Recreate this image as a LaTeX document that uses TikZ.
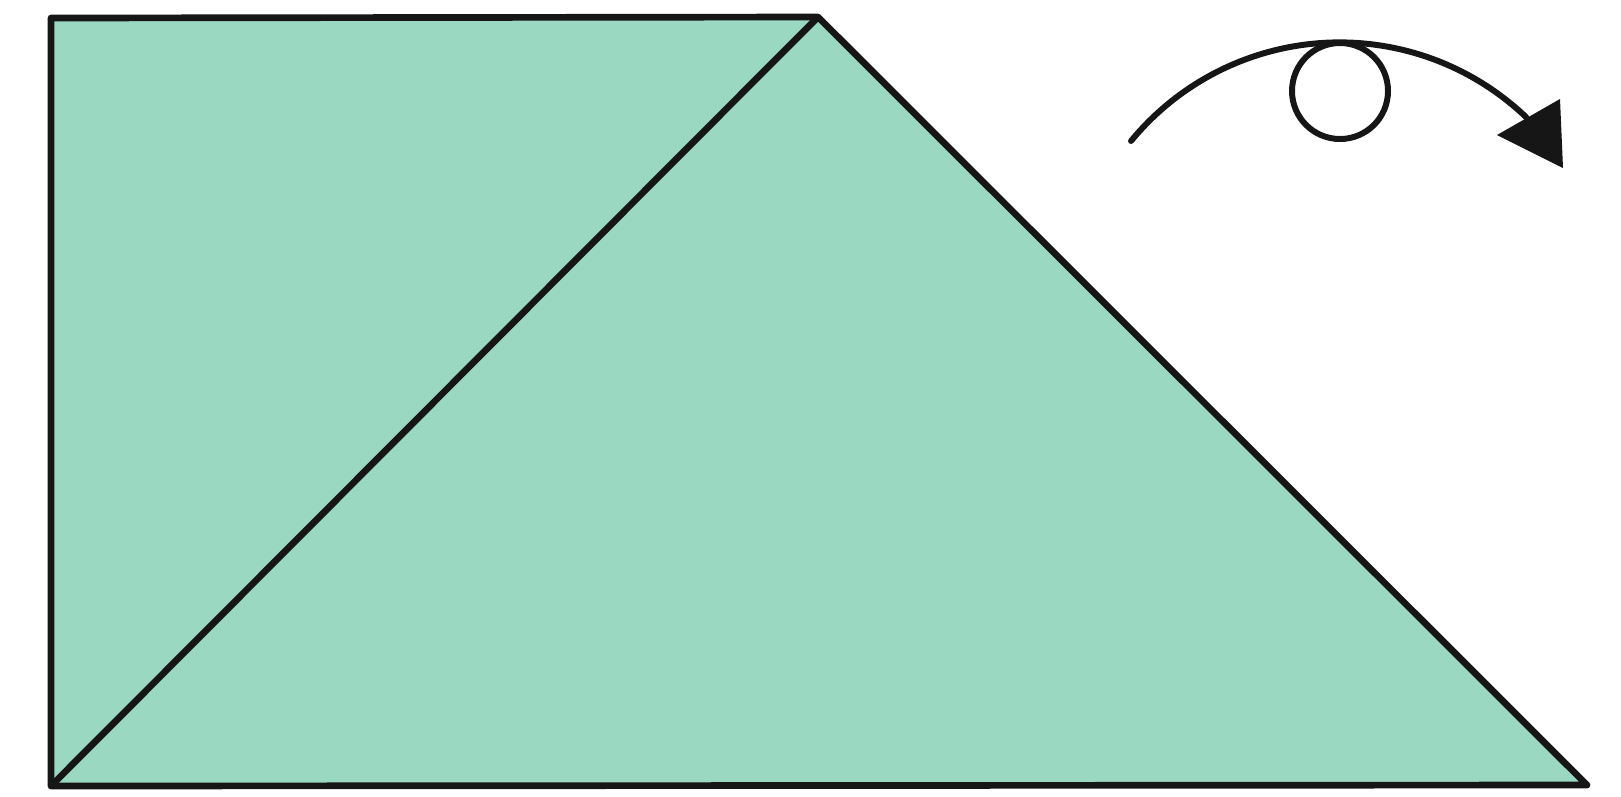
\documentclass[tikz,border=0pt]{standalone}
\definecolor{paper}{RGB}{154,216,194}
\definecolor{ink}{RGB}{22,22,22}
\begin{document}
\begin{tikzpicture}[x=0.01cm,y=-0.01cm,
  edge/.style={draw=ink,line width=1.9pt,line join=round},
  arcline/.style={draw=ink,line width=1.7pt}]
\useasboundingbox (0,0) rectangle (1621,796);
\coordinate (TL) at (51,18);
\coordinate (TR) at (818,17);
\coordinate (BR) at (1587,785);
\coordinate (BL) at (51,786);
\fill[paper] (TL) -- (TR) -- (BR) -- (BL) -- cycle;
\draw[edge] (BL) -- (TR);
\draw[edge] (TL) -- (TR) -- (BR) -- (BL) -- cycle;
% turn-over arrow
\coordinate (AS) at (1131,141);
\draw[arcline,line cap=round] (AS) arc[start angle=-140.6, end angle=-46.3, radius=270];
\draw[arcline] (1340,91) circle [radius=48];
\fill[ink] (1497,135) -- (1560,99) -- (1563,168) -- cycle;
\end{tikzpicture}
\end{document}
